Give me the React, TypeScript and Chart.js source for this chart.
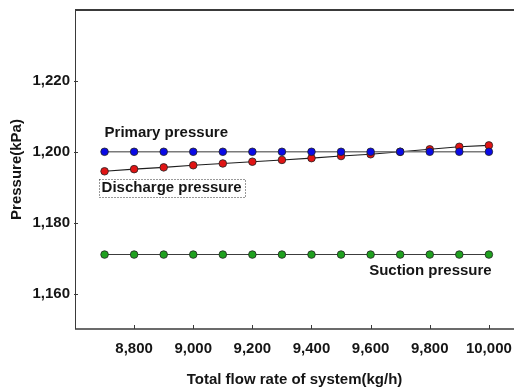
import React, { useEffect, useRef } from "react";
import { Chart, registerables } from "chart.js";

Chart.register(...registerables);

const flowRates = [8700, 8800, 8900, 9000, 9100, 9200, 9300, 9400, 9500, 9600, 9700, 9800, 9900, 10000];
const primaryPressure = [1200, 1200, 1200, 1200, 1200, 1200, 1200, 1200, 1200, 1200, 1200, 1200, 1200, 1200];
const dischargePressure = [1194.5, 1195.1, 1195.6, 1196.2, 1196.7, 1197.2, 1197.7, 1198.2, 1198.8, 1199.3, 1200.0, 1200.7, 1201.4, 1201.8];
const suctionPressure = [1171, 1171, 1171, 1171, 1171, 1171, 1171, 1171, 1171, 1171, 1171, 1171, 1171, 1171];

const xTicks = [8800, 9000, 9200, 9400, 9600, 9800, 10000];
const yTicks = [1160, 1180, 1200, 1220];

const labelTexts = ["Primary pressure", "Discharge pressure", "Suction pressure"];
const labelAnchorX = [8700, 8690, 9595];
const labelAnchorY = [1205.4, 1189.7, 1166.5];

const FONT = "'Liberation Sans', Arial, Helvetica, sans-serif";
const TEXT = "#151515";

const fmt = (v: number) => v.toLocaleString("en-US");

const framePlugin = {
  id: "frame",
  afterDraw(chart: any) {
    const { ctx, chartArea } = chart;
    const xs = chart.scales.x;
    const ys = chart.scales.y;
    const { left, top, bottom, right } = chartArea;
    ctx.save();
    ctx.strokeStyle = "#3a3a3a";
    ctx.lineWidth = 2;
    ctx.beginPath();
    ctx.moveTo(left, top);
    ctx.lineTo(right, top);
    ctx.stroke();
    ctx.lineWidth = 1.5;
    ctx.beginPath();
    ctx.moveTo(left, bottom);
    ctx.lineTo(right, bottom);
    ctx.stroke();
    ctx.lineWidth = 1;
    ctx.beginPath();
    ctx.moveTo(left + 0.5, top);
    ctx.lineTo(left + 0.5, bottom);
    ctx.stroke();
    ctx.lineWidth = 1;
    yTicks.forEach((v) => {
      const py = Math.round(ys.getPixelForValue(v)) + 0.5;
      ctx.beginPath();
      ctx.moveTo(left - 1, py);
      ctx.lineTo(left + 3, py);
      ctx.stroke();
    });
    xTicks.forEach((v) => {
      const px = Math.round(xs.getPixelForValue(v)) + 0.5;
      ctx.beginPath();
      ctx.moveTo(px, bottom);
      ctx.lineTo(px, bottom - 4);
      ctx.stroke();
    });
    ctx.font = `bold 15px ${FONT}`;
    ctx.fillStyle = TEXT;
    ctx.textAlign = "left";
    ctx.textBaseline = "middle";
    labelTexts.forEach((t, i) => {
      const px = xs.getPixelForValue(labelAnchorX[i]);
      const py = ys.getPixelForValue(labelAnchorY[i]);
      ctx.fillText(t, px, py);
      if (i === 1) {
        const w = ctx.measureText(t).width;
        ctx.save();
        ctx.setLineDash([1, 2]);
        ctx.strokeStyle = "#333";
        ctx.lineWidth = 1;
        ctx.strokeRect(Math.round(px - 3) + 0.5, Math.round(py - 9) + 0.5, Math.round(w + 6), 18);
        ctx.restore();
      }
    });
    ctx.restore();
  },
};

export default function App() {
  const ref = useRef<HTMLCanvasElement | null>(null);
  useEffect(() => {
    if (!ref.current) return;
    const mk = (data: number[]) => flowRates.map((x, i) => ({ x, y: data[i] }));
    const chart = new Chart(ref.current, {
      type: "line",
      data: {
        datasets: [
          {
            label: "Primary pressure",
            data: mk(primaryPressure),
            borderColor: "#7a7a7a",
            borderWidth: 1.6,
            pointBackgroundColor: "#0a0ae6",
            pointBorderColor: "#222",
            pointBorderWidth: 0.8,
            pointRadius: 3.8,
          },
          {
            label: "Discharge pressure",
            data: mk(dischargePressure),
            borderColor: "#1e1e1e",
            borderWidth: 1.1,
            pointBackgroundColor: "#e01414",
            pointBorderColor: "#222",
            pointBorderWidth: 0.8,
            pointRadius: 3.8,
          },
          {
            label: "Suction pressure",
            data: mk(suctionPressure),
            borderColor: "#3c3c3c",
            borderWidth: 1.1,
            pointBackgroundColor: "#1fa01f",
            pointBorderColor: "#222",
            pointBorderWidth: 0.8,
            pointRadius: 3.8,
          },
        ],
      },
      options: {
        animation: false,
        responsive: true,
        maintainAspectRatio: false,
        layout: { autoPadding: false, padding: { top: 10, left: 0, right: 0, bottom: 0 } },
        plugins: { legend: { display: false }, tooltip: { enabled: false } },
        scales: {
          x: {
            type: "linear",
            min: 8600,
            max: 10085,
            grid: { display: false, drawTicks: false },
            border: { display: false },
            afterBuildTicks: (s: any) => {
              s.ticks = xTicks.map((v) => ({ value: v }));
            },
            afterFit: (s: any) => {
              s.height = 60;
              s.paddingLeft = 0;
              s.paddingRight = 0;
            },
            ticks: {
              autoSkip: false,
              maxRotation: 0,
              padding: 11,
              color: TEXT,
              font: { family: FONT, size: 15, weight: "bold" },
              callback: (v: any) => fmt(Number(v)),
            },
            title: {
              display: true,
              text: "Total flow rate of system(kg/h)",
              color: TEXT,
              font: { family: FONT, size: 15, weight: "bold" },
              padding: { top: 0, bottom: 0 },
            },
          },
          y: {
            type: "linear",
            min: 1150,
            max: 1240,
            grid: { display: false, drawTicks: false },
            border: { display: false },
            afterBuildTicks: (s: any) => {
              s.ticks = yTicks.map((v) => ({ value: v }));
            },
            afterFit: (s: any) => {
              s.width = 75;
              s.paddingTop = 0;
              s.paddingBottom = 0;
            },
            ticks: {
              padding: 5,
              color: TEXT,
              font: { family: FONT, size: 15, weight: "bold" },
              callback: (v: any) => fmt(Number(v)),
            },
            title: {
              display: true,
              text: "Pressure(kPa)",
              color: TEXT,
              font: { family: FONT, size: 15, weight: "bold" },
              padding: { top: 8, bottom: 0 },
            },
          },
        },
      },
      plugins: [framePlugin],
    } as any);
    return () => chart.destroy();
  }, []);
  return (
    <div style={{ position: "absolute", left: 0, top: 0, width: 514, height: 389, background: "#fff" }}>
      <canvas ref={ref} />
    </div>
  );
}
